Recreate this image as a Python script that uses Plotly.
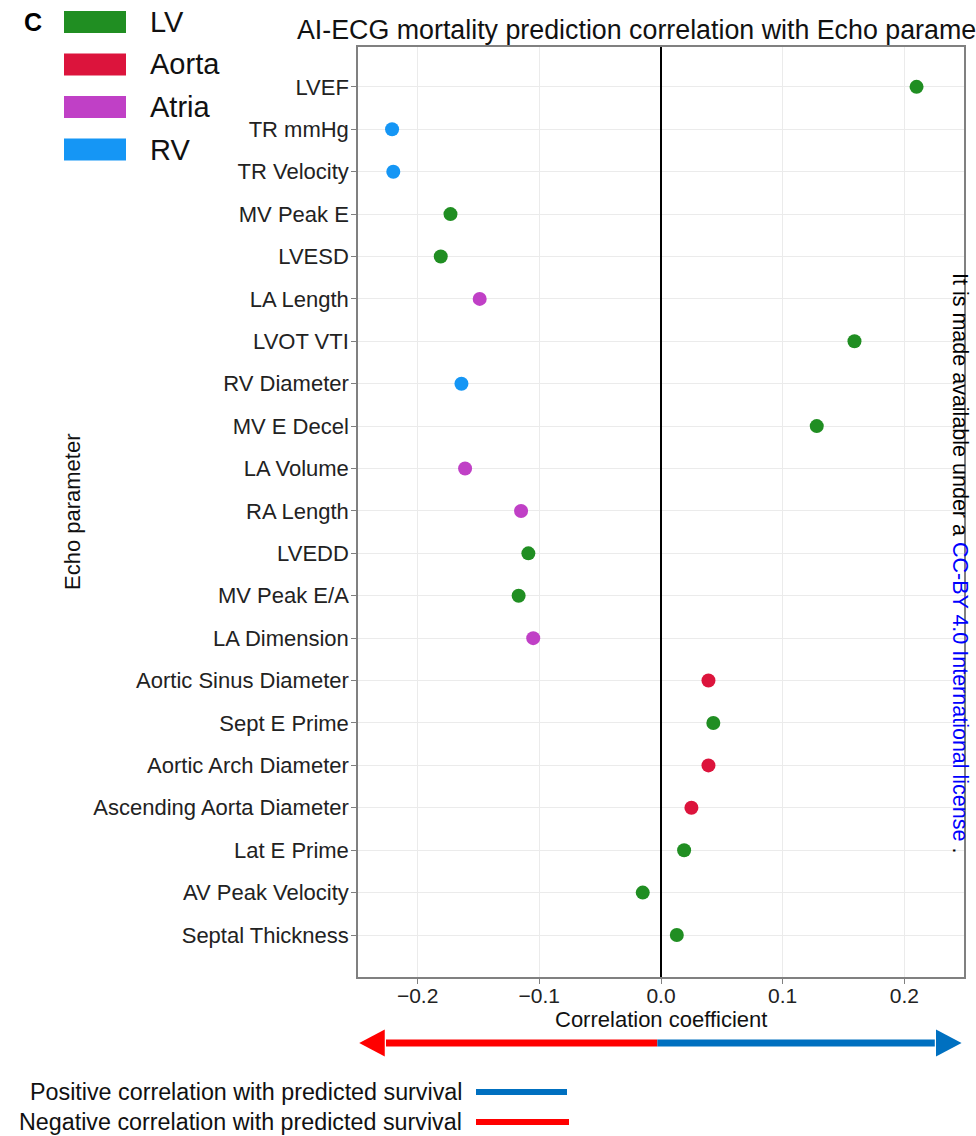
import plotly.graph_objects as go

# ---------------- data ----------------
params = ["LVEF", "TR mmHg", "TR Velocity", "MV Peak E", "LVESD", "LA Length",
          "LVOT VTI", "RV Diameter", "MV E Decel", "LA Volume", "RA Length",
          "LVEDD", "MV Peak E/A", "LA Dimension", "Aortic Sinus Diameter",
          "Sept E Prime", "Aortic Arch Diameter", "Ascending Aorta Diameter",
          "Lat E Prime", "AV Peak Velocity", "Septal Thickness"]
groups = ["LV", "RV", "RV", "LV", "LV", "Atria",
          "LV", "RV", "LV", "Atria", "Atria",
          "LV", "LV", "Atria", "Aorta",
          "LV", "Aorta", "Aorta",
          "LV", "LV", "LV"]
corr = [0.210, -0.221, -0.220, -0.173, -0.181, -0.149,
        0.159, -0.164, 0.128, -0.161, -0.115,
        -0.109, -0.117, -0.105, 0.039,
        0.043, 0.039, 0.025,
        0.019, -0.015, 0.013]
group_names = ["LV", "Aorta", "Atria", "RV"]
group_colors = {"LV": "#208E22", "Aorta": "#DC143C", "Atria": "#C040C6", "RV": "#1596F5"}

x_ticks = [-0.2, -0.1, 0.0, 0.1, 0.2]
x_ticklabels = ["\u22120.2", "\u22120.1", "0.0", "0.1", "0.2"]

title_text = "AI-ECG mortality prediction correlation with Echo parameters"
pos_label = "Positive correlation with predicted survival"
neg_label = "Negative correlation with predicted survival"

# ---------------- layout geometry (pixels) ----------------
W, H = 976, 1136
L, R, T, B = 358, 964, 47, 977
FONT = "Liberation Sans, Arial, sans-serif"


def px(xp):
    return (xp - L) / (R - L)


def py(yp):
    return (B - yp) / (B - T)


fig = go.Figure()
for g in group_names:
    xs = [c for c, gg in zip(corr, groups) if gg == g]
    ys = [p for p, gg in zip(params, groups) if gg == g]
    fig.add_trace(go.Scatter(x=xs, y=ys, mode="markers", name=g, showlegend=False,
                             marker=dict(color=group_colors[g], size=14, line=dict(width=0))))

shapes = []
annotations = []

# legend (top-left)
leg_y = [22, 64.5, 107, 149.5]
for g, yc in zip(group_names, leg_y):
    shapes.append(dict(type="rect", xref="paper", yref="paper",
                       x0=px(64), x1=px(126), y0=py(yc - 11), y1=py(yc + 11),
                       fillcolor=group_colors[g], line=dict(width=0), layer="above"))
    annotations.append(dict(xref="paper", yref="paper", x=px(148), y=py(yc), text=g,
                            showarrow=False, xanchor="left", yanchor="middle",
                            font=dict(family=FONT, size=29, color="#111")))
annotations.append(dict(xref="paper", yref="paper", x=px(22), y=py(22), text="<b>C</b>",
                        showarrow=False, xanchor="left", yanchor="middle",
                        font=dict(family=FONT, size=25, color="#000")))

# title (cut off at the right edge, as in the reference)
annotations.append(dict(xref="paper", yref="paper", x=px(295), y=py(30), text=title_text,
                        showarrow=False, xanchor="left", yanchor="middle",
                        font=dict(family=FONT, size=26.8, color="#111")))
# axis titles
annotations.append(dict(xref="paper", yref="paper", x=0.5, y=py(1020), text="Correlation coefficient",
                        showarrow=False, xanchor="center", yanchor="middle",
                        font=dict(family=FONT, size=22, color="#111")))
annotations.append(dict(xref="paper", yref="paper", x=px(72), y=py(512), text="Echo parameter",
                        showarrow=False, xanchor="center", yanchor="middle", textangle=-90,
                        font=dict(family=FONT, size=22, color="#111")))

# arrows below axis
ay = py(1043)
hh = 13.5 / (B - T)
shapes.append(dict(type="line", xref="x", yref="paper", x0=-0.003, x1=-0.226, y0=ay, y1=ay,
                   line=dict(color="#FF0000", width=7)))
shapes.append(dict(type="path", xref="x", yref="paper",
                   path=f"M -0.248 {ay} L -0.227 {ay + hh} L -0.227 {ay - hh} Z",
                   fillcolor="#FF0000", line=dict(width=0)))
shapes.append(dict(type="line", xref="x", yref="paper", x0=-0.003, x1=0.225, y0=ay, y1=ay,
                   line=dict(color="#0070C0", width=7)))
shapes.append(dict(type="path", xref="x", yref="paper",
                   path=f"M 0.247 {ay} L 0.226 {ay + hh} L 0.226 {ay - hh} Z",
                   fillcolor="#0070C0", line=dict(width=0)))

# bottom legend
for lab, col, yc, x1 in [(pos_label, "#0070C0", 1092, 567), (neg_label, "#FF0000", 1122, 569)]:
    annotations.append(dict(xref="paper", yref="paper", x=px(464), y=py(yc), text=lab,
                            showarrow=False, xanchor="right", yanchor="middle",
                            font=dict(family=FONT, size=23.3, color="#111")))
    shapes.append(dict(type="line", xref="paper", yref="paper", x0=px(476), x1=px(x1),
                       y0=py(yc), y1=py(yc), line=dict(color=col, width=6)))

# watermark text
annotations.append(dict(xref="paper", yref="paper", x=px(960), y=py(563),
                        text="It is made available under a <span style='color:#0000FF'>CC-BY 4.0 International license</span> .",
                        showarrow=False, xanchor="center", yanchor="middle", textangle=90,
                        font=dict(family=FONT, size=21.5, color="#000")))

fig.update_layout(
    width=W, height=H,
    margin=dict(l=L, r=W - R, t=T, b=H - B, autoexpand=False),
    paper_bgcolor="white", plot_bgcolor="white",
    shapes=shapes, annotations=annotations,
    font=dict(family=FONT, color="#111"),
)
fig.update_xaxes(range=[-0.249, 0.249], tickvals=x_ticks, ticktext=x_ticklabels,
                 showgrid=True, gridcolor="#EBEBEB", gridwidth=1,
                 zeroline=True, zerolinecolor="#000", zerolinewidth=2,
                 showline=True, linecolor="#808080", linewidth=1.5, mirror=True,
                 ticks="outside", ticklen=5, tickcolor="#808080", ticklabelstandoff=-6,
                 tickfont=dict(family=FONT, size=21, color="#222"))
fig.update_yaxes(type="category", categoryorder="array", categoryarray=params[::-1],
                 range=[-0.99, 20.94],
                 showgrid=True, gridcolor="#EBEBEB", gridwidth=1,
                 showline=True, linecolor="#808080", linewidth=1.5, mirror=True,
                 ticks="outside", ticklen=5, tickcolor="#808080", ticklabelstandoff=-2,
                 tickfont=dict(family=FONT, size=22, color="#222"))

fig.write_html("out.html", config={"displayModeBar": False},
               post_script="document.body.style.margin='0';document.body.style.overflow='hidden';")
